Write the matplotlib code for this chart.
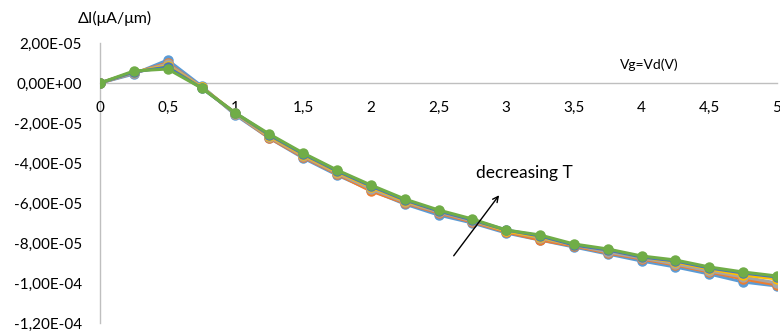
import matplotlib

matplotlib.use("Agg")

import matplotlib.pyplot as plt  # noqa: E402
import numpy as np  # noqa: E402
from matplotlib.ticker import FuncFormatter, MultipleLocator  # noqa: E402

plt.rcParams["font.family"] = ["Lato", "DejaVu Sans"]

SCALE = 1e-5  # values below are in units of 1E-05 µA/µm

vg = [0, 0.25, 0.5, 0.75, 1, 1.25, 1.5, 1.75, 2, 2.25, 2.5, 2.75,
      3, 3.25, 3.5, 3.75, 4, 4.25, 4.5, 4.75, 5]

s_blue = [0, 0.45, 1.15, -0.15, -1.6, -2.75, -3.75, -4.6, -5.35, -6.05, -6.6,
          -7.0, -7.5, -7.85, -8.2, -8.55, -8.9, -9.2, -9.55, -9.95, -10.15]
s_orange = [0, 0.5, 1.0, -0.2, -1.55, -2.75, -3.7, -4.55, -5.4, -6.0, -6.5,
            -6.95, -7.45, -7.85, -8.15, -8.5, -8.8, -9.1, -9.45, -9.8, -10.1]
s_gray = [0, 0.5, 0.95, -0.2, -1.55, -2.7, -3.65, -4.5, -5.3, -5.95, -6.45,
          -6.9, -7.4, -7.75, -8.1, -8.45, -8.75, -9.05, -9.4, -9.7, -10.0]
s_yellow = [0, 0.55, 0.85, -0.22, -1.5, -2.65, -3.6, -4.45, -5.2, -5.9, -6.4,
            -6.85, -7.4, -7.7, -8.1, -8.35, -8.7, -8.95, -9.3, -9.6, -9.8]
s_darkblue = [0, 0.55, 0.8, -0.25, -1.5, -2.6, -3.55, -4.4, -5.15, -5.85, -6.4,
              -6.85, -7.35, -7.65, -8.1, -8.35, -8.7, -8.9, -9.25, -9.5, -9.7]
s_green = [0, 0.6, 0.7, -0.25, -1.5, -2.55, -3.5, -4.35, -5.1, -5.8, -6.35,
           -6.8, -7.35, -7.6, -8.05, -8.3, -8.65, -8.85, -9.2, -9.45, -9.65]

series = [
    (s_blue, "#5B9BD5"),
    (s_orange, "#ED7D31"),
    (s_gray, "#A5A5A5"),
    (s_yellow, "#FFC000"),
    (s_darkblue, "#4472C4"),
    (s_green, "#70AD47"),
]


def excel_sci(v, _pos):
    if abs(v) < 1e-12:
        return "0,00E+00"
    return f"{v:.2E}".replace(".", ",")


def comma_num(v, _pos):
    return f"{v:g}".replace(".", ",")


fig = plt.figure(figsize=(7.8, 3.36), dpi=100)
ax = fig.add_axes([100 / 780, 13 / 336, 677 / 780, 280 / 336])

for vals, col in series:
    ax.plot(vg, np.array(vals) * SCALE, color=col, lw=2.2, marker="o",
            ms=6.5, mec=col, mfc=col, solid_joinstyle="round")

ax.set_xlim(0, 5)
ax.set_ylim(-1.2e-4, 2e-5)
ax.xaxis.set_major_locator(MultipleLocator(0.5))
ax.yaxis.set_major_locator(MultipleLocator(2e-5))
ax.xaxis.set_major_formatter(FuncFormatter(comma_num))
ax.yaxis.set_major_formatter(FuncFormatter(excel_sci))

for side in ("top", "right"):
    ax.spines[side].set_visible(False)
ax.spines["bottom"].set_position(("data", 0))
for side in ("left", "bottom"):
    ax.spines[side].set_color("#BFBFBF")
    ax.spines[side].set_linewidth(1.0)
    ax.spines[side].set_zorder(0)
ax.tick_params(axis="both", length=0, labelsize=11, colors="#404040")
ax.tick_params(axis="x", pad=13)
ax.tick_params(axis="y", pad=13)
for lab in ax.get_xticklabels() + ax.get_yticklabels():
    lab.set_color("#000000")

fig.text(115 / 780, 1 - 18 / 336, "ΔI(μA/μm)", fontsize=11.5, va="center", ha="center")
ax.text(3.84, 0.9e-5, "Vg=Vd(V)", fontsize=10, va="center", ha="left")

ax.annotate("", xy=(2.96, -5.5e-5), xytext=(2.6, -8.75e-5),
            arrowprops=dict(arrowstyle="->", color="black", lw=1.0))
ax.text(2.78, -4.5e-5, "decreasing T", fontsize=12.5, va="center", ha="left")

fig.savefig("out.png", dpi=100)
